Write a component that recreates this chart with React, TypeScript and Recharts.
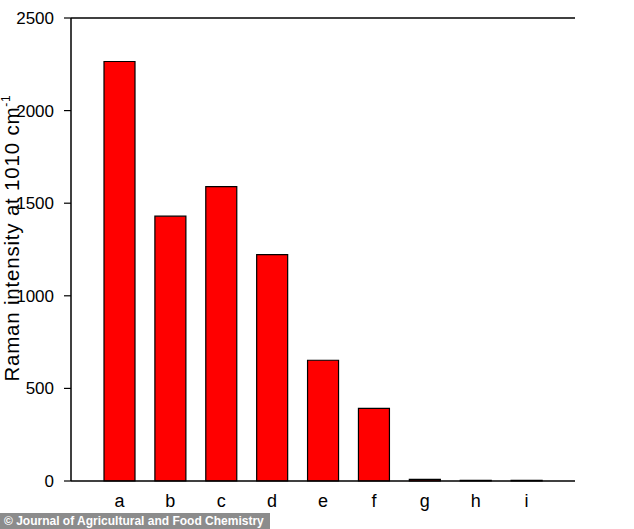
import { BarChart, Bar, XAxis, YAxis, ReferenceLine, Label } from 'recharts';

const samples = ['a', 'b', 'c', 'd', 'e', 'f', 'g', 'h', 'i'];
const intensity = [2265, 1430, 1590, 1222, 652, 392, 9, 3, 3];
const yTicks = [0, 500, 1000, 1500, 2000, 2500];

const data = samples.map((name, i) => ({ name, value: intensity[i] }));

const font = '"Liberation Sans", Arial, sans-serif';

const YTitle = () => (
  <text
    transform="translate(19, 238) rotate(-90)"
    textAnchor="middle"
    fill="#000"
    fontSize={20.5}
    letterSpacing={0.8}
    fontFamily={font}
  >
    Raman intensity at 1010 cm
    <tspan fontSize={12} dy={-9}>-1</tspan>
  </text>
);

export default function App() {
  return (
    <div style={{ position: 'absolute', left: 0, top: 0, width: 634, height: 529, background: '#fff', fontFamily: font }}>
      <BarChart
        width={634}
        height={529}
        data={data}
        margin={{ top: 18, right: 59, bottom: 20, left: 0 }}
      >
        <XAxis
          dataKey="name"
          tickLine={false}
          axisLine={{ stroke: '#000', strokeWidth: 1.5 }}
          tick={{ fill: '#000', fontSize: 18, fontFamily: font }}
          tickMargin={7}
          height={28}
          padding={{ left: 23, right: 23 }}
        />
        <YAxis
          domain={[0, 2500]}
          ticks={yTicks}
          interval={0}
          width={71}
          tickSize={7}
          tickMargin={10}
          axisLine={{ stroke: '#000', strokeWidth: 1.5 }}
          tickLine={{ stroke: '#000', strokeWidth: 1.2 }}
          tick={{ fill: '#000', fontSize: 17, fontFamily: font }}
        >
          <Label content={YTitle} />
        </YAxis>
        <YAxis
          yAxisId="right"
          orientation="right"
          domain={[0, 2500]}
          width={0}
          tick={false}
          tickLine={false}
          axisLine={{ stroke: '#000', strokeWidth: 1.5 }}
        />
        <ReferenceLine y={2500} stroke="#000" strokeWidth={1.5} ifOverflow="extendDomain" />
        <Bar
          dataKey="value"
          fill="#ff0000"
          stroke="#000"
          strokeWidth={1.2}
          barSize={31}
          isAnimationActive={false}
        />
      </BarChart>
      <div
        style={{
          position: 'absolute',
          left: 0,
          top: 513,
          width: 270,
          height: 16,
          background: '#8c8c8c',
          color: '#fff',
          fontWeight: 'bold',
          fontSize: 12,
          lineHeight: '16px',
          paddingLeft: 4,
          boxSizing: 'border-box',
          whiteSpace: 'nowrap',
          fontFamily: font,
        }}
      >
        © Journal of Agricultural and Food Chemistry
      </div>
    </div>
  );
}
